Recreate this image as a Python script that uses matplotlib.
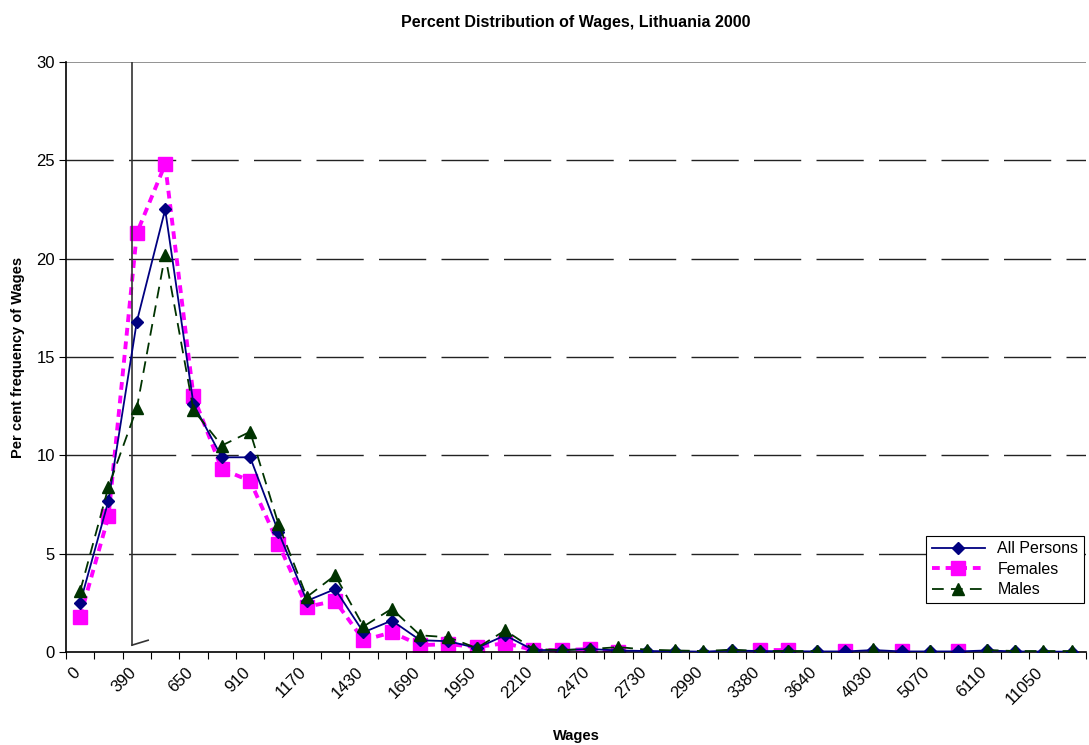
import numpy as np
import matplotlib.pyplot as plt
import matplotlib.transforms as mtransforms

plt.rcParams['font.family'] = ['Liberation Sans', 'DejaVu Sans']

# wage bands (only every second one is labelled on the axis)
wages = ['0', '260', '390', '520', '650', '780', '910', '1040', '1170', '1300',
         '1430', '1560', '1690', '1820', '1950', '2080', '2210', '2340', '2470', '2600',
         '2730', '2860', '2990', '3250', '3380', '3510', '3640', '3900', '4030', '4550',
         '5070', '5590', '6110', '7800', '11050', '15000']

all_persons = [2.5, 7.7, 16.8, 22.5, 12.6, 9.9, 9.9, 6.1, 2.6, 3.2,
               1.0, 1.6, 0.6, 0.55, 0.2, 0.85, 0.1, 0.1, 0.15, 0.08,
               0.05, 0.04, 0.02, 0.08, 0.05, 0.04, 0.03, 0.03, 0.1, 0.03,
               0.03, 0.03, 0.08, 0.03, 0.02, 0.02]
nan = np.nan
females = [1.8, 6.9, 21.3, 24.8, 13.0, 9.3, 8.7, 5.5, 2.3, 2.6,
           0.6, 1.0, 0.35, 0.4, 0.25, 0.45, 0.1, 0.1, 0.15, 0.0,
           nan, nan, nan, nan, 0.1, 0.1, nan, 0.05, nan, 0.05,
           nan, 0.05, nan, nan, nan, nan]
males = [3.1, 8.4, 12.4, 20.2, 12.3, 10.5, 11.2, 6.5, 2.8, 3.9,
         1.3, 2.2, 0.85, 0.75, 0.2, 1.1, 0.15, 0.1, 0.15, 0.25,
         0.12, 0.08, 0.05, 0.12, 0.05, 0.05, 0.05, nan, 0.15, nan,
         0.05, nan, 0.1, 0.05, 0.05, 0.05]

x = np.arange(len(wages))

fig = plt.figure(figsize=(10.89, 7.45), dpi=100)
ax = fig.add_axes([0.0606, 0.1248, 0.9366, 0.792])

# gridlines
for yv in [5, 10, 15, 20, 25]:
    ax.axhline(yv, color='#222222', linewidth=1, dashes=(34, 11), zorder=1)
ax.axhline(30, color='#808080', linewidth=1.2, zorder=1)

ax.plot(x, all_persons, color='#000080', linewidth=1.3, marker='D', markersize=6,
        label='All Persons', zorder=3)
ax.plot(x, females, color='#FF00FF', linewidth=2.8, dashes=(2, 1.5), marker='s',
        markersize=10.5, label='Females', zorder=2)
ax.plot(x, males, color='#003300', linewidth=1.3, dashes=(6.5, 4), marker='^',
        markersize=8, label='Males', zorder=4)

# vertical marker line with small break tick
ax.plot([1.83, 1.83], [30, 0.35], color='#333333', linewidth=1.2, zorder=2)
ax.plot([1.83, 2.4], [0.35, 0.6], color='#333333', linewidth=1.2, zorder=2)

ax.set_xlim(-0.5, len(wages) - 0.5)
ax.set_ylim(0, 30)
ax.set_yticks(np.arange(0, 31, 5))
ax.tick_params(axis='y', direction='out', length=5, labelsize=12, pad=3)

ax.set_xticks(np.arange(-0.5, len(wages), 1))
ax.set_xticklabels([])
ax.tick_params(axis='x', which='major', direction='out', length=5)
ax.set_xticks(x[::2], minor=True)
ax.set_xticklabels(wages[::2], minor=True, rotation=45, ha='right', va='top',
                   rotation_mode='anchor', fontsize=12)
ax.tick_params(axis='x', which='minor', length=0, pad=9)
shift = mtransforms.ScaledTranslation(-8 / 100, 0, fig.dpi_scale_trans)
for lab in ax.get_xticklabels(minor=True):
    lab.set_transform(lab.get_transform() + shift)

for s in ['top', 'right']:
    ax.spines[s].set_visible(False)
for s in ['left', 'bottom']:
    ax.spines[s].set_color('black')
    ax.spines[s].set_linewidth(1.2)

ax.set_title('Percent Distribution of Wages, Lithuania 2000', fontsize=11.5,
             fontweight='bold', pad=25)
ax.set_xlabel('Wages', fontsize=10.5, fontweight='bold', labelpad=16)
ax.set_ylabel('Per cent frequency of Wages', fontsize=10.5, fontweight='bold', labelpad=8)

leg = ax.legend(loc='lower right', bbox_to_anchor=(0.998, 0.083), borderaxespad=0,
                fancybox=False, framealpha=1, edgecolor='black', fontsize=11.5,
                handlelength=3.3, borderpad=0.35, labelspacing=0.35)
leg.get_frame().set_linewidth(0.8)
leg.set_zorder(10)

fig.savefig('out.png', dpi=100)
